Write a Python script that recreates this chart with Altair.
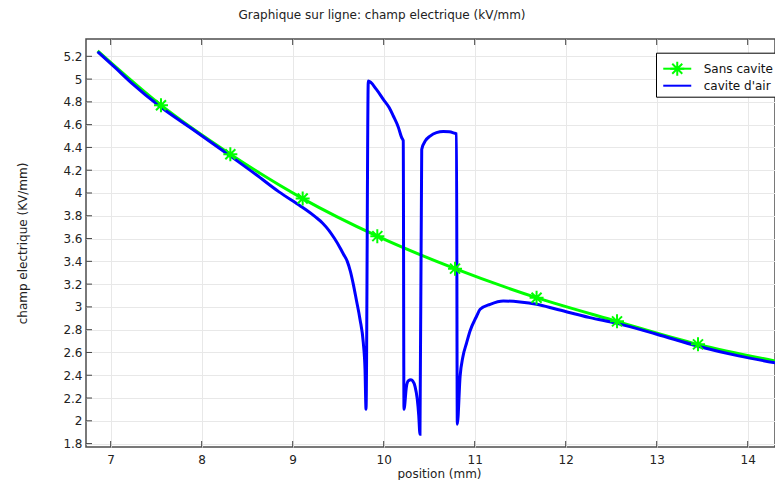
import altair as alt
import pandas as pd

chart_title = "Graphique sur ligne: champ electrique (kV/mm)"
x_title = "position (mm)"
y_title = "champ electrique (KV/mm)"
series_names = ["Sans cavite", "cavite d'air"]
series_colors = ["#00ff00", "#0000ff"]
marker_keys = ["star", "none"]

# "Sans cavite" curve (endpoints + marker positions)
green_x = [6.857, 7.553, 8.315, 9.110, 9.930, 10.784, 11.680, 12.564, 13.454, 14.366]
green_y = [5.247, 4.770, 4.340, 3.951, 3.621, 3.336, 3.081, 2.873, 2.671, 2.515]
marker_x = [7.553, 8.315, 9.110, 9.930, 10.784, 11.680, 12.564, 13.454]
marker_y = [4.770, 4.340, 3.951, 3.621, 3.336, 3.081, 2.873, 2.671]

# "cavite d'air" curve
blue_x = [6.857, 7.05, 7.231, 7.55, 7.9, 8.315, 8.6, 8.85, 9.084, 9.15, 9.25, 9.33,
          9.40, 9.46, 9.52, 9.56, 9.60, 9.635, 9.666, 9.70, 9.74, 9.776, 9.795, 9.806,
          9.831, 9.92, 9.996, 10.06, 10.106, 10.16, 10.198, 10.215, 10.223, 10.25,
          10.27, 10.30, 10.319, 10.345, 10.369, 10.385, 10.399, 10.418, 10.46, 10.51,
          10.58, 10.655, 10.72, 10.783, 10.80, 10.809, 10.84, 10.87, 10.912, 10.95,
          11.022, 11.06, 11.17, 11.314, 11.498, 11.68, 11.90, 12.267, 12.564, 13.0,
          13.454, 13.9, 14.366]
blue_y = [5.24, 5.10, 4.965, 4.755, 4.56, 4.325, 4.16, 4.01, 3.886, 3.85, 3.79, 3.735,
          3.67, 3.60, 3.52, 3.46, 3.40, 3.31, 3.20, 3.06, 2.89, 2.686, 2.45, 2.101,
          4.983, 4.91, 4.822, 4.75, 4.676, 4.58, 4.486, 4.46, 2.101, 2.30,
          2.35, 2.36, 2.35, 2.30, 2.19, 2.05, 1.881, 4.383, 4.46, 4.50,
          4.53, 4.539, 4.537, 4.524, 4.52, 1.969, 2.393, 2.56, 2.686, 2.79,
          2.92, 2.979, 3.023, 3.052, 3.043, 3.023, 2.979, 2.906, 2.855, 2.76,
          2.655, 2.57, 2.50]

x_ticks = [7, 8, 9, 10, 11, 12, 13, 14]
y_ticks = [1.8, 2, 2.2, 2.4, 2.6, 2.8, 3, 3.2, 3.4, 3.6, 3.8, 4, 4.2, 4.4, 4.6, 4.8, 5, 5.2]
x_domain = [6.729, 14.30]
y_domain = [1.77, 5.352]

FONT = "DejaVu Sans"
W, H = 689, 408

star_path = "M0,-0.7L0,0.7M-0.7,0L0.7,0M-0.5,-0.5L0.5,0.5M-0.5,0.5L0.5,-0.5"
empty_path = "M0,0"

green_df = pd.DataFrame({"x": green_x, "y": green_y, "serie": series_names[0],
                         "i": range(len(green_x))})
blue_df = pd.DataFrame({"x": blue_x, "y": blue_y, "serie": series_names[1],
                        "i": range(len(blue_x))})
marker_df = pd.DataFrame({"x": marker_x, "y": marker_y, "marker": marker_keys[0]})
xt_df = pd.DataFrame({"t": x_ticks})
yt_df = pd.DataFrame({"v": y_ticks})

xs = alt.Scale(domain=x_domain, nice=False, zero=False)
ys = alt.Scale(domain=y_domain, nice=False, zero=False)

x_axis = alt.Axis(values=x_ticks, tickCount=len(x_ticks) + 2, format="~g", grid=True,
                  ticks=False, tickSize=0, domain=False, labelOverlap=False,
                  labelPadding=7, title=x_title, titleX=353, titleY=26,
                  titleBaseline="middle", titleAlign="center")
y_axis = alt.Axis(values=y_ticks, tickCount=len(y_ticks) + 2, format="~g", grid=True,
                  ticks=False, tickSize=0, domain=False, labelOverlap=False,
                  labelPadding=4, title=y_title, titleX=-64, titleY=204,
                  titleAngle=-90, titleBaseline="middle", titleAlign="center")

color_legend = alt.Legend(title=None, orient="none", legendX=570, legendY=13.7,
                          padding=5, fillColor="white", strokeColor="black",
                          symbolType="M-1.4,0L1.4,0", symbolSize=400,
                          symbolStrokeWidth=2, symbolOffset=5.25, labelOffset=15.5,
                          labelFont=FONT, labelFontSize=12, labelColor="#111",
                          rowPadding=0, zindex=1)
shape_legend = alt.Legend(title=None, orient="none", legendX=570, legendY=13.7,
                          padding=5, symbolSize=400, symbolStrokeWidth=2,
                          symbolStrokeColor="#00ff00", symbolFillColor="transparent",
                          symbolOffset=5.25, labelOffset=15.5, labelFont=FONT,
                          labelFontSize=12, labelExpr="''", rowPadding=0, zindex=2)

color_enc = alt.Color("serie:N", scale=alt.Scale(domain=series_names, range=series_colors),
                      legend=color_legend)

green_line = alt.Chart(green_df).mark_line(strokeWidth=3, clip=True,
                                           interpolate="monotone").encode(
    x=alt.X("x:Q", scale=xs, axis=x_axis),
    y=alt.Y("y:Q", scale=ys, axis=y_axis),
    color=color_enc,
    order="i:Q",
)
blue_line = alt.Chart(blue_df).mark_line(strokeWidth=3, clip=True,
                                         interpolate="monotone").encode(
    x=alt.X("x:Q", scale=xs),
    y=alt.Y("y:Q", scale=ys),
    color=color_enc,
    order="i:Q",
)
markers = alt.Chart(marker_df).mark_point(size=400, filled=False, strokeWidth=2,
                                          color="#00ff00", opacity=1, clip=True).encode(
    x=alt.X("x:Q", scale=xs),
    y=alt.Y("y:Q", scale=ys),
    shape=alt.Shape("marker:N",
                    scale=alt.Scale(domain=marker_keys, range=[star_path, empty_path]),
                    legend=shape_legend),
)
top_ticks = alt.Chart(xt_df).mark_rule(color="#444", strokeWidth=1).encode(
    x=alt.X("t:Q", scale=xs), y=alt.value(0), y2=alt.value(6))
bottom_ticks = alt.Chart(xt_df).mark_rule(color="#444", strokeWidth=1).encode(
    x=alt.X("t:Q", scale=xs), y=alt.value(H - 6), y2=alt.value(H))
left_ticks = alt.Chart(yt_df).mark_rule(color="#444", strokeWidth=1).encode(
    y=alt.Y("v:Q", scale=ys), x=alt.value(0), x2=alt.value(6))

chart = alt.layer(green_line, blue_line, markers, top_ticks, bottom_ticks, left_ticks).properties(
    width=W, height=H,
    autosize=alt.AutoSizeParams(type="none"),
    padding={"left": 78, "top": 31, "right": 0, "bottom": 33},
    title=alt.TitleParams(text=chart_title, anchor="middle", frame="group", dx=-48.5,
                          offset=8, baseline="alphabetic", font=FONT, fontSize=12,
                          fontWeight="normal", color="#222"),
).configure_view(stroke="#4d4d4d", strokeWidth=1.5).configure_axis(
    gridColor="#e8e8e8", gridWidth=1, labelFont=FONT, labelFontSize=12,
    labelColor="#222", titleFont=FONT, titleFontSize=12, titleFontWeight="normal",
    titleColor="#222",
)

chart.save("out.html", embed_options={"renderer": "svg", "actions": False})
